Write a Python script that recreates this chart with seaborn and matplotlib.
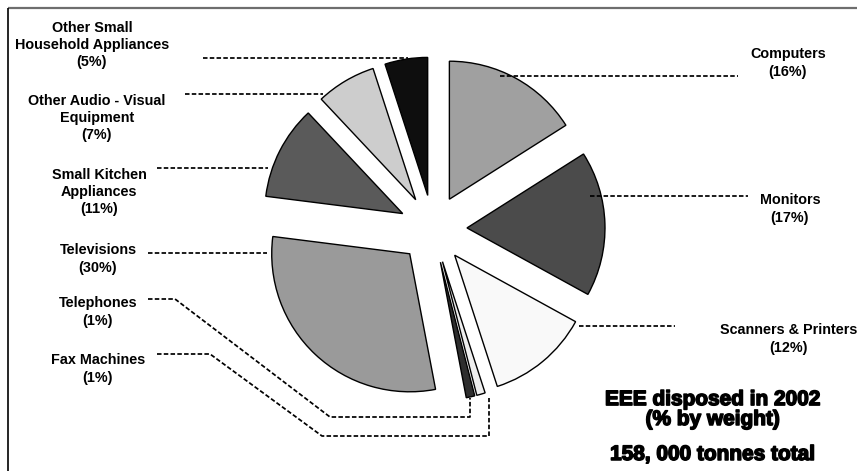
import matplotlib
matplotlib.use("Agg")
import matplotlib.pyplot as plt
import seaborn as sns
import matplotlib.patheffects as pe

# ---- data ----
categories = ["Computers", "Monitors", "Scanners & Printers", "Fax Machines",
              "Telephones", "Televisions", "Small Kitchen Appliances",
              "Other Audio - Visual Equipment", "Other Small Household Appliances"]
shares = [16, 17, 12, 1, 1, 30, 11, 7, 5]
label_texts = ["Computers\n(16%)", "Monitors\n(17%)", "Scanners & Printers\n(12%)",
               "Fax Machines\n(1%)", "Telephones\n(1%)", "Televisions\n(30%)",
               "Small Kitchen\nAppliances\n(11%)", "Other Audio - Visual\nEquipment\n(7%)",
               "Other Small\nHousehold Appliances\n(5%)"]
title_text = "EEE disposed in 2002\n(% by weight)"
total_text = "158, 000 tonnes total"

# ---- style / layout ----
colors = ["#a0a0a0", "#4b4b4b", "#f9f9f9", "#efefef", "#2e2e2e",
          "#9a9a9a", "#5a5a5a", "#cdcdcd", "#0e0e0e"]
W, H = 857, 471
CX, CY, R, EXPL = 433, 229, 138, 34

label_pos = [(788, 63), (790, 209), (789, 339), (98, 369), (98, 312),
             (98, 259), (99, 192), (97, 118), (92, 45)]
leaders = [
    [(500, 76), (738, 76)],
    [(590, 196), (748, 196)],
    [(579, 326), (675, 326)],
    [(157, 354), (210, 354), (322, 436), (489, 436), (489, 398)],
    [(148, 299), (175, 299), (330, 417), (470, 417), (470, 398)],
    [(148, 253), (267, 253)],
    [(157, 168), (268, 168)],
    [(185, 94), (323, 94)],
    [(203, 58), (408, 58)],
]

sns.set_theme(style="white")
plt.rcParams['font.family'] = ['Liberation Sans', 'DejaVu Sans']

fig = plt.figure(figsize=(W / 100, H / 100), dpi=100)
fig.patch.set_facecolor("white")

# pie axes: square in pixels, unit radius = R px
half = 200
pax = fig.add_axes([(CX - half) / W, (H - CY - half) / H, 2 * half / W, 2 * half / H])
pax.pie(shares, colors=colors, startangle=90, counterclock=False,
        radius=1, explode=[EXPL / R] * len(shares),
        wedgeprops=dict(edgecolor="black", linewidth=1.0))
pax.set_xlim(-half / R, half / R)
pax.set_ylim(-half / R, half / R)
pax.set_aspect("equal")
pax.axis("off")

# overlay axes in pixel coordinates
ax = fig.add_axes([0, 0, 1, 1])
ax.set_xlim(0, W)
ax.set_ylim(H, 0)
ax.set_facecolor("none")
ax.axis("off")

for pts in leaders:
    xs = [p[0] for p in pts]
    ys = [p[1] for p in pts]
    ax.plot(xs, ys, color="black", lw=1.25, linestyle=(0, (2.6, 1.3)))

for txt, (x, y) in zip(label_texts, label_pos):
    ax.text(x, y, txt, ha="center", va="center", multialignment="center",
            fontsize=10.4, fontweight="bold", linespacing=1.3, color="black")

heavy = [pe.withStroke(linewidth=1.1, foreground="black")]
ax.text(713, 425, title_text, ha="center", va="baseline", multialignment="center",
        fontsize=15, fontweight="bold", linespacing=1.06, color="black",
        path_effects=heavy)
ax.text(713, 460, total_text, ha="center", va="baseline", fontsize=15,
        fontweight="bold", color="black", path_effects=heavy)

# frame lines
ax.plot([8, W], [8, 8], color="#6e6e6e", lw=1.6, solid_capstyle="butt")
ax.plot([8, 8], [8, H], color="black", lw=1.2, solid_capstyle="butt")

fig.savefig("out.png", dpi=100, facecolor="white")
